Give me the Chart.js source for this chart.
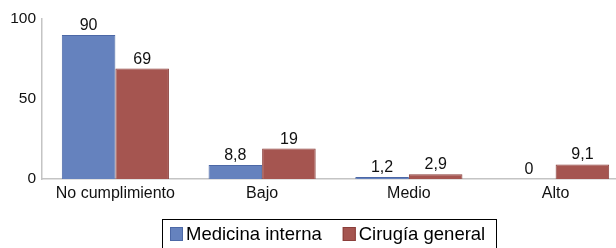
<!DOCTYPE html>
<html><head><meta charset="utf-8">
<script src="https://cdn.jsdelivr.net/npm/chart.js@4/dist/chart.umd.min.js"></script>
<style>html,body{margin:0;padding:0;overflow:hidden;background:#fff;width:616px;height:248px}
#wrap{width:629px;height:248px;position:relative}</style>
</head><body><div id="wrap"><canvas id="c" width="629" height="248"></canvas></div>
<script>
const categories = ['No cumplimiento', 'Bajo', 'Medio', 'Alto'];
const seriesNames = ['Medicina interna', 'Cirugía general'];
const medicinaInterna = [90, 8.8, 1.2, 0];
const cirugiaGeneral = [69, 19, 2.9, 9.1];
const yTicks = [0, 50, 100];

const FONT = '"Liberation Sans", Arial, Helvetica, sans-serif';
const fill = ['#6582BE', '#A55550'];
const edge = ['#4C68A6', '#8A3E3A'];

const labelPlugin = {
  id: 'vals',
  afterDatasetsDraw(chart) {
    const ctx = chart.ctx;
    ctx.save();
    ctx.font = '16px ' + FONT;
    ctx.fillStyle = '#111';
    ctx.textAlign = 'center';
    ctx.textBaseline = 'alphabetic';
    chart.data.datasets.forEach((ds, i) => {
      chart.getDatasetMeta(i).data.forEach((bar, j) => {
        const txt = String(ds.data[j]).replace('.', ',');
        ctx.fillText(txt, bar.x, bar.y - 5);
      });
    });
    ctx.restore();
  }
};

const legendPlugin = {
  id: 'boxLegend',
  afterDraw(chart) {
    const ctx = chart.ctx;
    ctx.save();
    ctx.strokeStyle = '#000';
    ctx.lineWidth = 1;
    ctx.strokeRect(162.5, 219.5, 334, 40);
    ctx.font = '18.5px ' + FONT;
    ctx.textBaseline = 'middle';
    ctx.fillStyle = '#000';
    let x = 170;
    chart.data.datasets.forEach((ds, i) => {
      ctx.fillStyle = ds.backgroundColor;
      ctx.fillRect(x, 227, 13, 14);
      ctx.strokeStyle = ds.borderColor;
      ctx.strokeRect(x + 0.5, 227.5, 12, 13);
      ctx.fillStyle = '#000';
      ctx.fillText(ds.label, x + 16, 234.5);
      x += 16 + ctx.measureText(ds.label).width + 21;
    });
    ctx.restore();
  }
};

new Chart(document.getElementById('c'), {
  type: 'bar',
  data: {
    labels: categories,
    datasets: [
      { label: seriesNames[0], data: medicinaInterna, backgroundColor: fill[0], borderColor: edge[0], borderWidth: 1, categoryPercentage: 0.73, barPercentage: 1 },
      { label: seriesNames[1], data: cirugiaGeneral, backgroundColor: fill[1], borderColor: edge[1], borderWidth: 1, categoryPercentage: 0.73, barPercentage: 1 }
    ]
  },
  options: {
    responsive: false,
    animation: false,
    layout: { padding: { top: 19, left: 0, right: 0, bottom: 0 } },
    plugins: { legend: { display: false }, tooltip: { enabled: false } },
    scales: {
      x: {
        grid: { display: false, drawTicks: false },
        border: { display: true, color: '#C4C4C4', width: 1.5 },
        ticks: { color: '#111', font: { size: 16, family: FONT }, padding: 5 },
        afterFit(s) { s.height = 69; }
      },
      y: {
        min: 0, max: 100,
        afterBuildTicks(s) { s.ticks = yTicks.map(v => ({ value: v })); },
        grid: { display: false, drawTicks: false },
        border: { display: true, color: '#C4C4C4', width: 1.5 },
        ticks: { color: '#111', font: { size: 15.5, family: FONT }, padding: 6 },
        afterFit(s) { s.width = 42; }
      }
    }
  },
  plugins: [labelPlugin, legendPlugin]
});
</script></body></html>
